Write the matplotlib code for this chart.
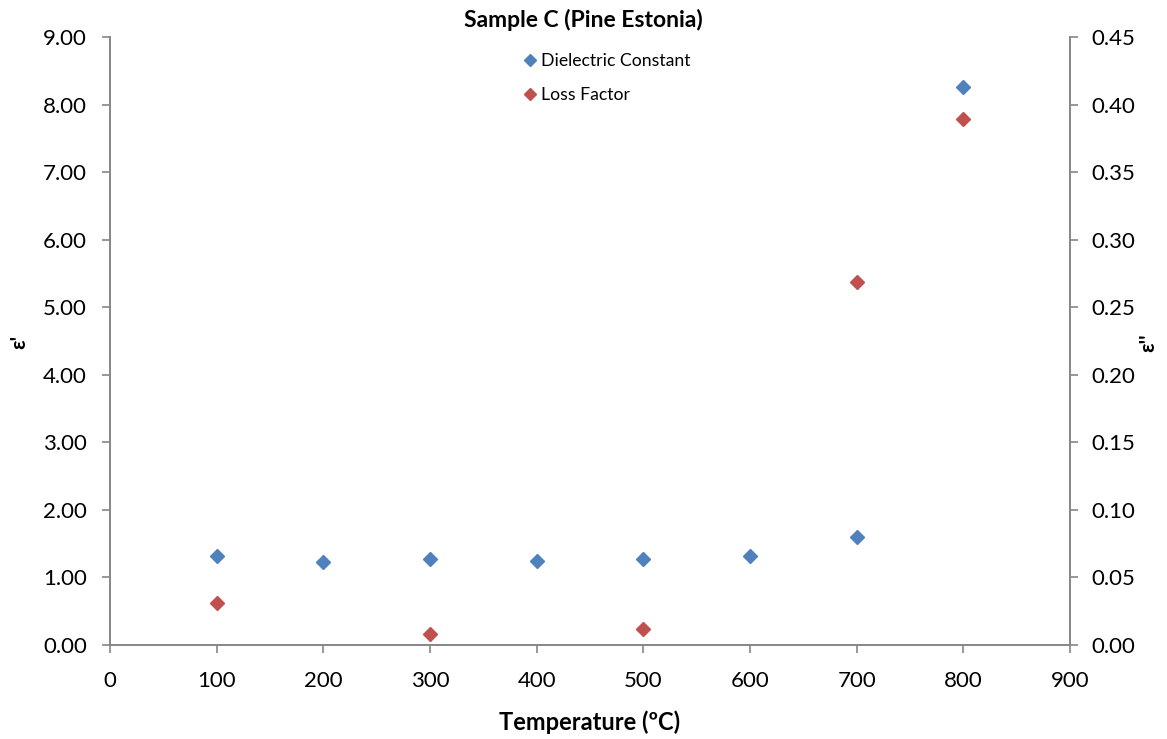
import matplotlib
matplotlib.use("Agg")
import matplotlib.pyplot as plt
from matplotlib.ticker import FormatStrFormatter, MultipleLocator

plt.rcParams["font.family"] = ["Lato", "DejaVu Sans"]

temperature_dc = [100, 200, 300, 400, 500, 600, 700, 800]
dielectric_constant = [1.31, 1.23, 1.27, 1.25, 1.27, 1.31, 1.60, 8.26]
temperature_lf = [100, 300, 500, 700, 800]
loss_factor = [0.031, 0.008, 0.012, 0.269, 0.389]

BLUE = "#4F81BD"
RED = "#C0504D"
AXIS_GRAY = "#868686"

fig = plt.figure(figsize=(11.67, 7.39), dpi=100)
ax = fig.add_axes([0.0943, 0.1272, 0.8226, 0.8228])
ax2 = ax.twinx()

h1, = ax.plot(temperature_dc, dielectric_constant, linestyle="none", marker="D",
              ms=7.5, color=BLUE, label="Dielectric Constant")
h2, = ax2.plot(temperature_lf, loss_factor, linestyle="none", marker="D",
               ms=7.5, color=RED, label="Loss Factor")

ax.set_xlim(0, 900)
ax.set_ylim(0, 9)
ax2.set_ylim(0, 0.45)
ax.xaxis.set_major_locator(MultipleLocator(100))
ax.yaxis.set_major_locator(MultipleLocator(1))
ax2.yaxis.set_major_locator(MultipleLocator(0.05))
ax.yaxis.set_major_formatter(FormatStrFormatter("%.2f"))
ax2.yaxis.set_major_formatter(FormatStrFormatter("%.2f"))

for a in (ax, ax2):
    a.spines["top"].set_visible(False)
    for side in ("left", "right", "bottom"):
        a.spines[side].set_color(AXIS_GRAY)
        a.spines[side].set_linewidth(1.2)
    a.tick_params(direction="out", length=5.5, width=1.2, color=AXIS_GRAY,
                  labelsize=16, labelcolor="black")
ax.tick_params(axis="x", pad=13)
ax.tick_params(axis="y", pad=11)
ax2.tick_params(axis="y", pad=10)

ax.set_xlabel("Temperature (ºC)", fontsize=17, fontweight="bold", labelpad=14)
ax.set_ylabel("ε'", fontsize=15, fontweight="bold", va="center")
ax2.set_ylabel("ε''", fontsize=15, fontweight="bold", va="center", rotation=90)
ax.yaxis.set_label_coords(-0.095, 0.498)
ax2.yaxis.set_label_coords(1.081, 0.498)
fig.text(0.50, 0.973, "Sample C (Pine Estonia)", ha="center", va="center",
         fontsize=16.5, fontweight="bold")

fig.legend(handles=[h1, h2], loc="upper left", bbox_to_anchor=(0.436, 0.95),
           frameon=False, fontsize=12.7, handlelength=0.6, handletextpad=0.3,
           labelspacing=1.05, markerscale=0.8)

fig.savefig("out.png", dpi=100)
